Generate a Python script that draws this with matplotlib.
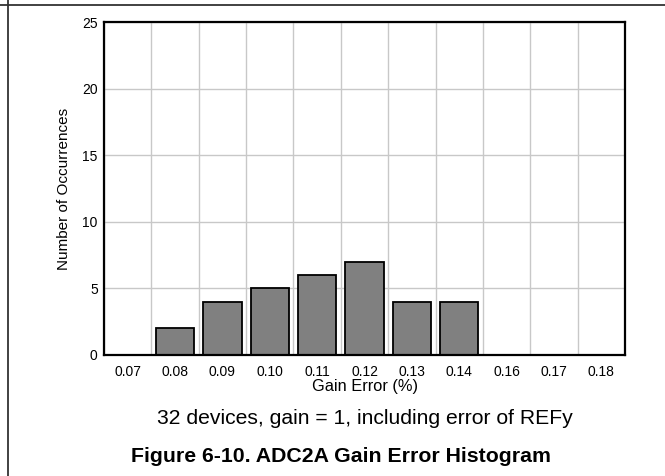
import matplotlib
matplotlib.use("Agg")
import matplotlib.pyplot as plt
from matplotlib.lines import Line2D
import numpy as np

plt.rcParams['font.family'] = ['Liberation Sans', 'DejaVu Sans']

# gain error bins (%) and counts
bins = ["0.07", "0.08", "0.09", "0.10", "0.11", "0.12", "0.13", "0.14", "0.16", "0.17", "0.18"]
counts = [0, 2, 4, 5, 6, 7, 4, 4, 0, 0, 0]
y_ticks = [0, 5, 10, 15, 20, 25]

fig = plt.figure(figsize=(6.65, 4.76), dpi=100)
ax = fig.add_axes([104/665, 1-355/476, (625-104)/665, (355-22)/476])

x = np.arange(len(bins))
ax.bar(x, counts, width=0.81, color="#808080", edgecolor="black", linewidth=1.3, zorder=3)

ax.set_xlim(-0.5, len(bins)-0.5)
ax.set_ylim(0, 25)
ax.set_xticks(x)
ax.set_xticklabels(bins)
ax.set_yticks(y_ticks)
# vertical grid lines sit between the bins
ax.set_xticks(np.arange(len(bins)+1)-0.5, minor=True)
ax.grid(True, which="minor", axis="x", color="#c8c8c8", linewidth=1.0, zorder=0)
ax.grid(True, which="major", axis="y", color="#c8c8c8", linewidth=1.0, zorder=0)

ax.tick_params(axis="both", which="both", length=0, labelsize=10)
ax.tick_params(axis="x", pad=7)
ax.tick_params(axis="y", pad=4.5)

for s in ax.spines.values():
    s.set_linewidth(1.6)
    s.set_color("black")
    s.set_zorder(4)

ax.set_xlabel("Gain Error (%)", fontsize=11.8, labelpad=0)
ax.set_ylabel("Number of Occurrences", fontsize=11, labelpad=8)

fig.text(365/665, 1-419/476, "32 devices, gain = 1, including error of REFy",
         ha="center", va="center", fontsize=15.2)
fig.text(341/665, 1-457/476, "Figure 6-10. ADC2A Gain Error Histogram",
         ha="center", va="center", fontsize=15.3, fontweight="bold")

# page frame lines
fig.add_artist(Line2D([8/665, 8/665], [0, 1], transform=fig.transFigure, color="#333333", linewidth=1.3))
fig.add_artist(Line2D([0, 1], [1-5/476, 1-5/476], transform=fig.transFigure, color="#333333", linewidth=1.3))

fig.savefig("out.png", dpi=100)
